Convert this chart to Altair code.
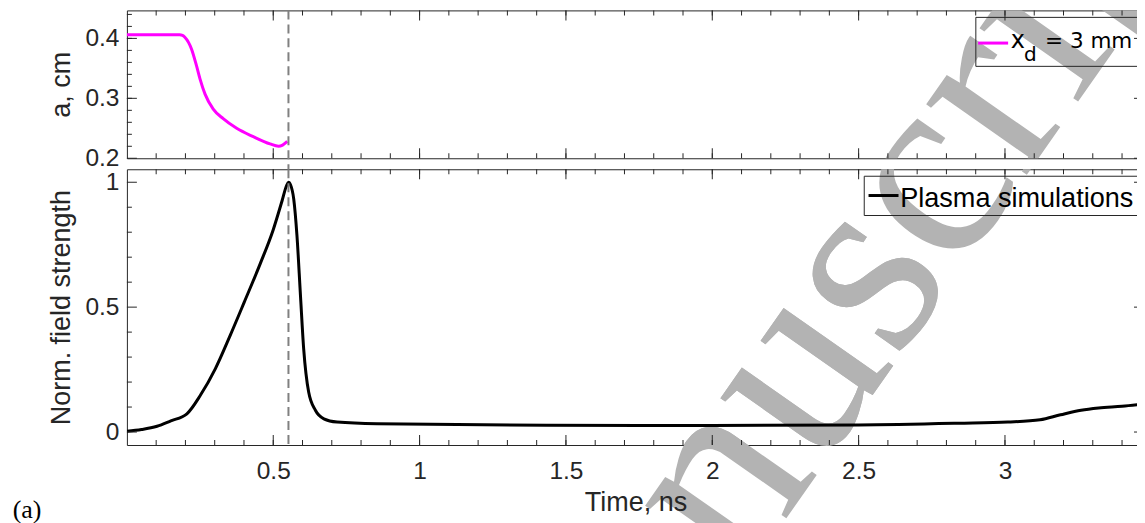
import altair as alt
import pandas as pd

# top panel: beam radius a (cm) vs time (ns)
t_a = [0.0, 0.10, 0.18, 0.19, 0.198, 0.221, 0.238, 0.25, 0.267, 0.295, 0.329,
       0.375, 0.432, 0.489, 0.518, 0.532, 0.548]
a_cm = [0.406, 0.406, 0.406, 0.405, 0.402, 0.382, 0.354, 0.332, 0.307, 0.282,
        0.266, 0.25, 0.236, 0.224, 0.22, 0.222, 0.228]

# bottom panel: normalized field strength vs time (ns)
t_e = [0.0, 0.05, 0.103, 0.15, 0.205, 0.251, 0.302, 0.353, 0.401, 0.456, 0.50,
       0.53, 0.545, 0.552, 0.559, 0.57, 0.581, 0.593, 0.604, 0.621, 0.644, 0.673,
       0.718, 0.855, 1.434, 2.0, 2.5, 2.84, 3.01, 3.12, 3.19, 3.26, 3.32, 3.40, 3.475]
e_norm = [0.003, 0.01, 0.023, 0.045, 0.073, 0.147, 0.253, 0.387, 0.52, 0.675, 0.81,
          0.925, 0.985, 1.0, 0.99, 0.933, 0.787, 0.547, 0.333, 0.16, 0.087, 0.053,
          0.04, 0.033, 0.027, 0.026, 0.028, 0.035, 0.04, 0.049, 0.069, 0.087, 0.096,
          0.103, 0.112]

t_mark = [0.552]

x_major = [0.5, 1, 1.5, 2, 2.5, 3]
x_minor = [round(0.1 * i, 1) for i in range(1, 35)]
a_major = [0.2, 0.3, 0.4]
a_minor = [round(0.2 + 0.02 * i, 2) for i in range(1, 13)]
e_major = [0, 0.5, 1]
e_minor = [0.1, 0.2, 0.3, 0.4, 0.6, 0.7, 0.8, 0.9]

INK = '#262626'
SANS = 'Liberation Sans'
W, H1, H2, GAP = 1018, 148, 276, 11
xscale = alt.Scale(domain=[0, 3.475], nice=False, zero=False)

# watermark: start of the rotated word, in page pixels
WM_X, WM_Y, WM_SIZE = 537, 872, 268


def one():
    return alt.Chart(pd.DataFrame({'k': [0]}))


def watermark(word, dy, clip):
    return alt.Chart(pd.DataFrame({'w': [word]})).mark_text(
        font='Liberation Serif', fontSize=WM_SIZE, color='#b3b3b3', angle=305,
        align='left', baseline='alphabetic', clip=clip
    ).encode(x=alt.value(WM_X - 126), y=alt.value(WM_Y - dy), text='w:N')


def edge_ticks(values, axis, scale, size, pos):
    # inward ticks along one edge of the box, MATLAB style
    base = alt.Chart(pd.DataFrame({'v': values}))
    if axis == 'x':
        return base.mark_tick(orient='vertical', size=size, thickness=1,
                              color=INK, opacity=1).encode(
            x=alt.X('v:Q', scale=scale, axis=None), y=alt.value(pos))
    return base.mark_tick(orient='horizontal', size=size, thickness=1,
                          color=INK, opacity=1).encode(
        y=alt.Y('v:Q', scale=scale, axis=None), x=alt.value(pos))


def panel(df, field, ydom, ymaj, ymin, H, ytitle, color, xlabels, rule_len):
    yscale = alt.Scale(domain=ydom, nice=False, zero=False)
    xaxis = alt.Axis(orient='bottom', values=x_major, format='.1~f', ticks=False,
                     domain=False, grid=False, labels=xlabels, zindex=2,
                     labelFont=SANS, labelFontSize=24.5, labelColor=INK,
                     labelPadding=15, title='Time, ns' if xlabels else None,
                     titleFont=SANS, titleFontSize=27, titleColor=INK,
                     titleFontWeight='normal', titlePadding=6)
    yaxis = alt.Axis(orient='left', values=ymaj, format='.1~f', ticks=False,
                     domain=False, grid=False, labelFont=SANS, labelFontSize=24.5,
                     labelColor=INK, labelPadding=8, title=ytitle, titleFont=SANS,
                     titleFontSize=27, titleColor=INK, titleFontWeight='normal',
                     titlePadding=9, zindex=2)
    line = alt.Chart(df).mark_line(
        color=color, strokeWidth=3, interpolate='monotone', clip=True,
        strokeJoin='round'
    ).encode(
        x=alt.X('t:Q', scale=xscale, axis=xaxis),
        y=alt.Y(f'{field}:Q', scale=yscale, axis=yaxis),
    )
    ticks = [
        edge_ticks(x_major, 'x', xscale, 10, H - 5),
        edge_ticks(x_minor, 'x', xscale, 5, H - 2.5),
        edge_ticks(x_major, 'x', xscale, 10, 5),
        edge_ticks(x_minor, 'x', xscale, 5, 2.5),
        edge_ticks(ymaj, 'y', yscale, 10, 5),
        edge_ticks(ymin, 'y', yscale, 5, 2.5),
        edge_ticks(ymaj, 'y', yscale, 10, W - 5),
        edge_ticks(ymin, 'y', yscale, 5, W - 2.5),
    ]
    rule = alt.Chart(pd.DataFrame({'t': t_mark})).mark_rule(
        color='#808080', strokeWidth=2, strokeDash=[9, 5], clip=False
    ).encode(
        x=alt.X('t:Q', scale=xscale, axis=None),
        y=alt.value(0), y2=alt.value(rule_len),
    )
    return line, ticks, rule


df_a = pd.DataFrame({'t': t_a, 'a': a_cm})
df_e = pd.DataFrame({'t': t_e, 'e': e_norm})

line1, ticks1, rule1 = panel(df_a, 'a', [0.2, 0.4467], a_major, a_minor, H1,
                             'a, cm', '#ff00ff', False, H1 + GAP)
line2, ticks2, rule2 = panel(df_e, 'e', [-0.052, 1.052], e_major, e_minor, H2,
                             'Norm. field strength', 'black', True, H2)

# legend of top panel
leg1 = [
    one().mark_rect(fillOpacity=0, stroke=INK, strokeWidth=1).encode(
        x=alt.value(849.7), x2=alt.value(1014.7), y=alt.value(7), y2=alt.value(56)),
    one().mark_rule(color='#ff00ff', strokeWidth=3).encode(
        x=alt.value(852), x2=alt.value(882), y=alt.value(32.7)),
    one().mark_text(text='x', font='DejaVu Sans', fontSize=24, color='black',
                    align='left', baseline='alphabetic').encode(
        x=alt.value(884.7), y=alt.value(38)),
    one().mark_text(text='d', font='DejaVu Sans', fontSize=20, color='black',
                    align='left', baseline='alphabetic').encode(
        x=alt.value(898), y=alt.value(51)),
    one().mark_text(text='= 3 mm', font='DejaVu Sans', fontSize=21.5, color='black',
                    align='left', baseline='alphabetic').encode(
        x=alt.value(919), y=alt.value(38)),
]

# legend of bottom panel and panel tag
leg2 = [
    one().mark_rect(fillOpacity=0, stroke=INK, strokeWidth=1).encode(
        x=alt.value(738), x2=alt.value(1012.3), y=alt.value(7), y2=alt.value(46.3)),
    one().mark_rule(color='black', strokeWidth=3).encode(
        x=alt.value(742.3), x2=alt.value(772.3), y=alt.value(26.3)),
    one().mark_text(text='Plasma simulations', font=SANS, fontSize=27.1,
                    color='black', align='left', baseline='alphabetic').encode(
        x=alt.value(774), y=alt.value(38)),
    one().mark_text(text='(a)', font='Liberation Serif', fontSize=26,
                    color='black', align='left', baseline='alphabetic').encode(
        x=alt.value(-114.3), y=alt.value(349)),
]


def stack(*layers, height):
    return alt.layer(*layers).resolve_scale(
        x='shared', y='shared'
    ).resolve_axis(
        x='independent', y='independent'
    ).properties(width=W, height=height)


top = stack(watermark('Manuscript', 8, True), line1, *ticks1, rule1, *leg1,
            height=H1)
# the first letters also run below the axis, so one copy is left unclipped
bottom = stack(watermark('Manuscript', 167, True), watermark('Manus', 167, False),
               line2, *ticks2, rule2, *leg2, height=H2)

# negative right padding: the window is narrower than the full figure,
# so the svg is cut at the right edge instead of the page being scaled down
chart = alt.vconcat(top, bottom, spacing=GAP, bounds='flush').properties(
    padding={'left': 4, 'top': 0, 'right': -8, 'bottom': 0}
).configure_view(stroke=INK, strokeWidth=1)

chart.save("out.html", embed_options={"renderer": "svg", "actions": False})
